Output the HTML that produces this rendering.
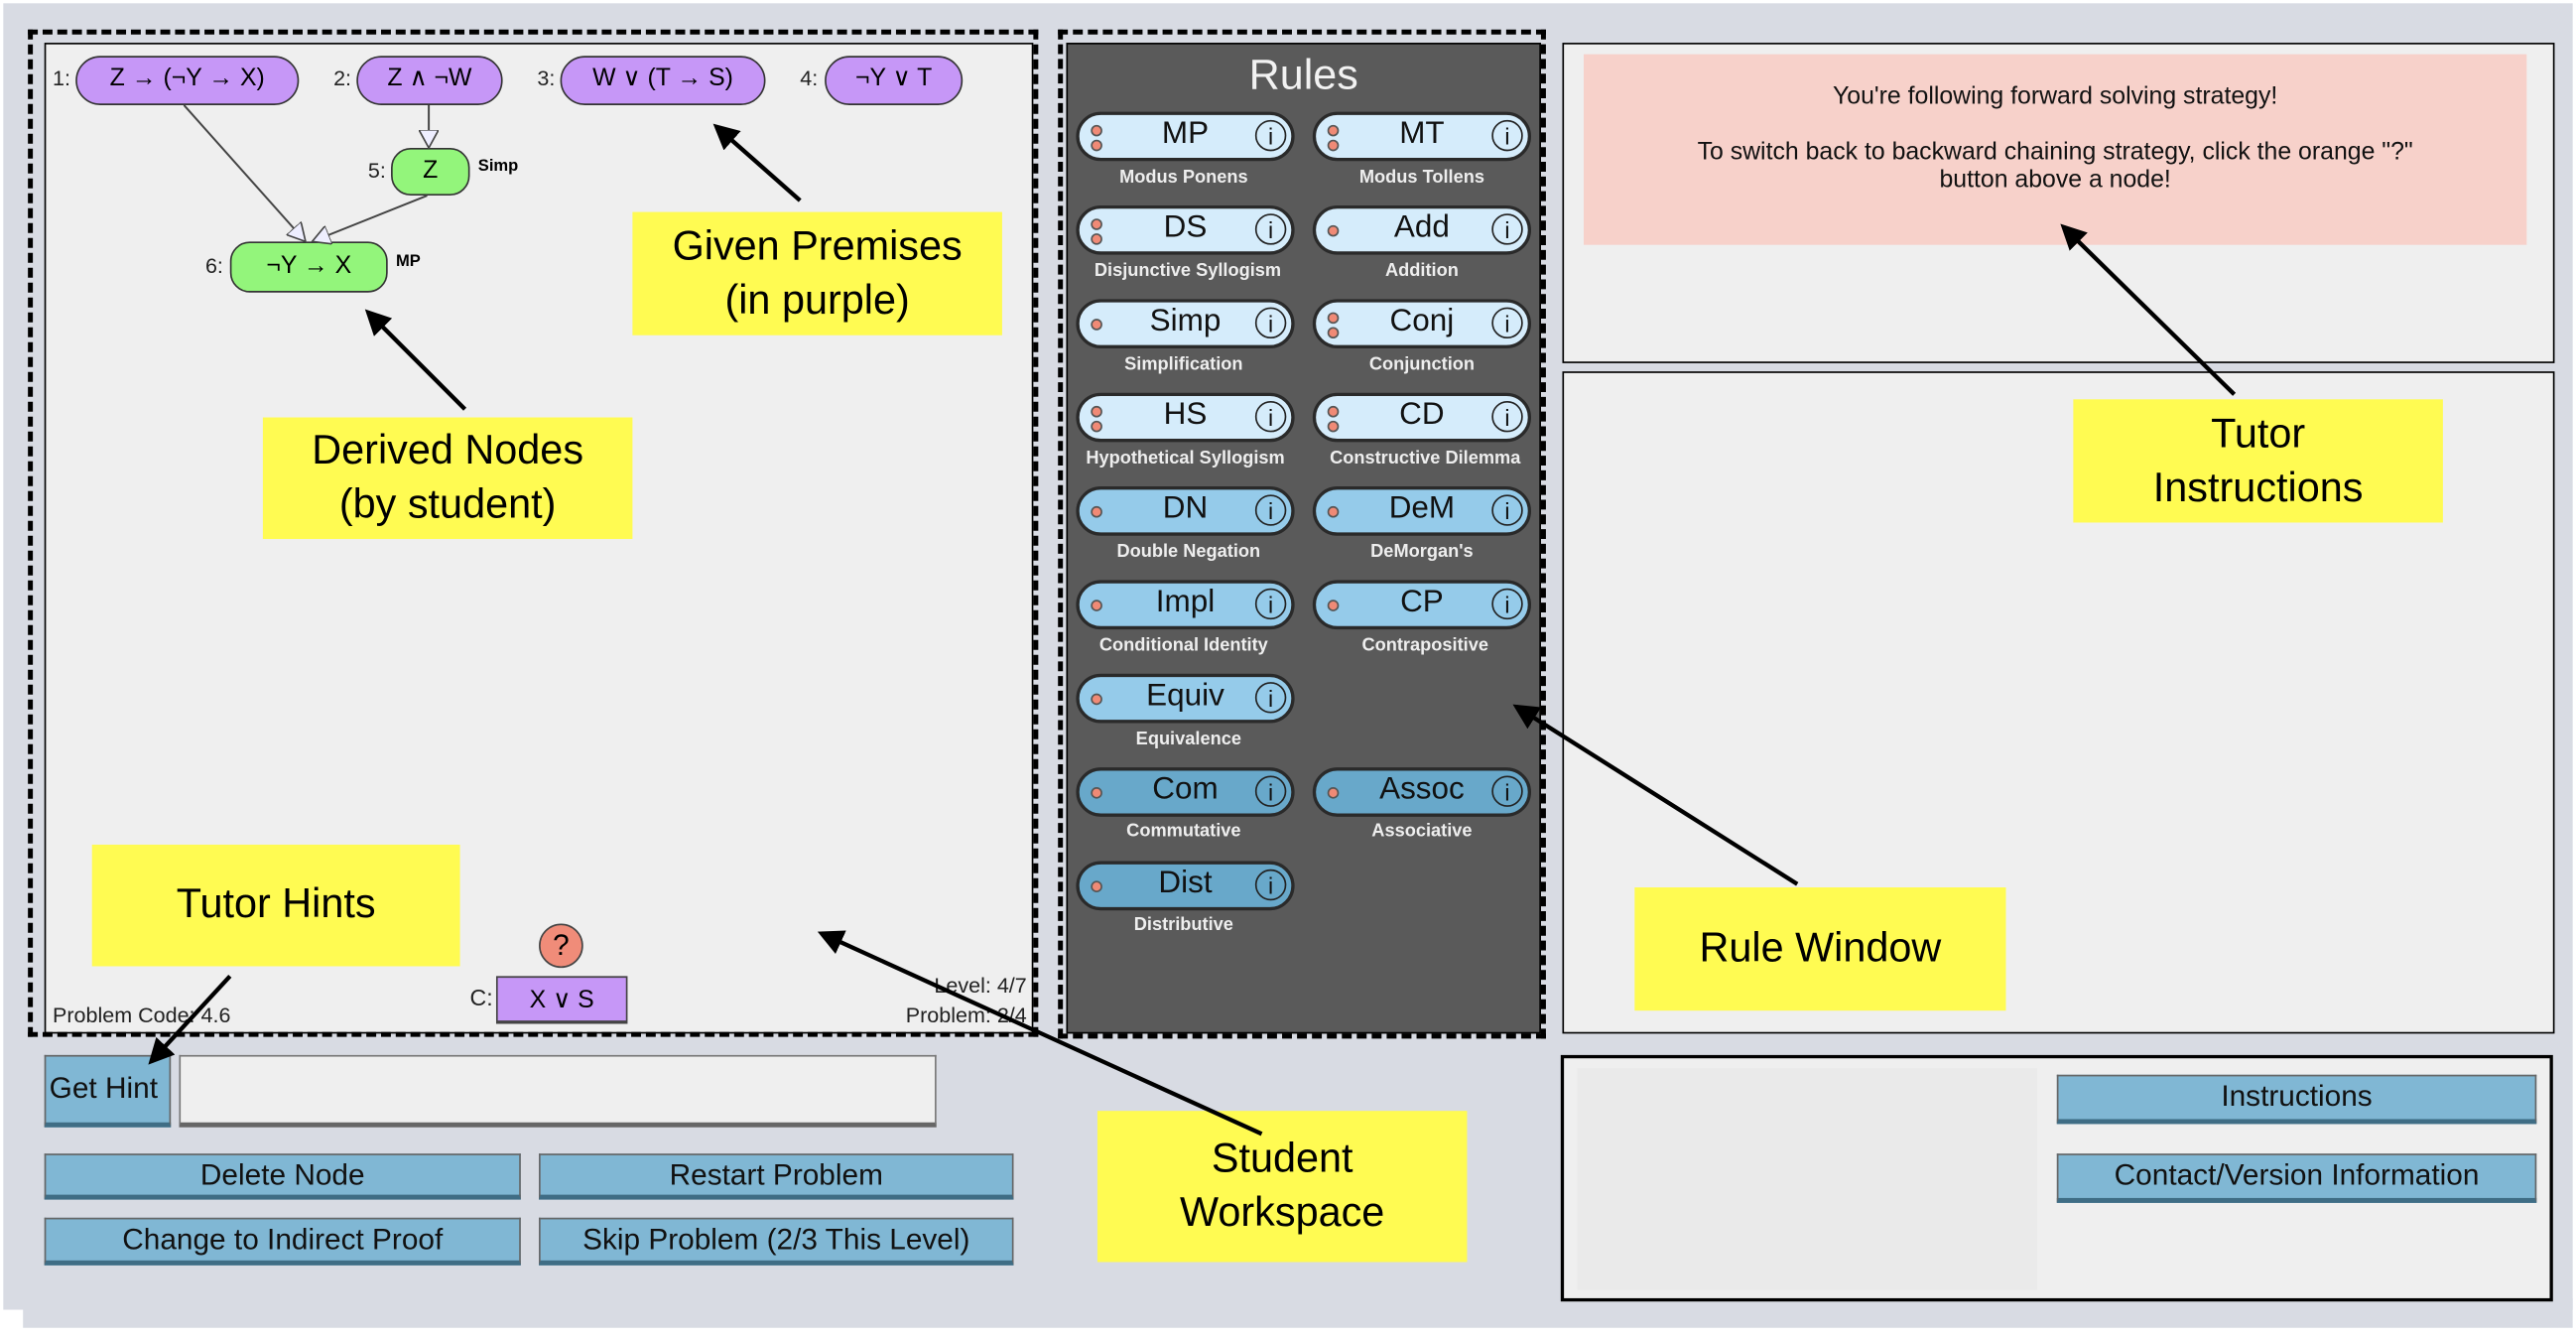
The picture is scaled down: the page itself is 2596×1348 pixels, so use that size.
<!DOCTYPE html>
<html><head><meta charset="utf-8"><style>
html,body{margin:0;padding:0;background:#fff;overflow:hidden}
#s{position:absolute;left:0;top:0;width:1568px;height:814px;transform:scale(1.6556);transform-origin:0 0;font-family:"Liberation Sans",sans-serif}
.a{position:absolute;box-sizing:border-box}
.y{background:#fffb52;color:#000;font-size:25px;text-align:center;display:flex;align-items:center;justify-content:center;line-height:33px}
.pn{background:#c697f7;border:1.5px solid #333;border-radius:15px;font-size:15px;text-align:center;line-height:26px}
.gn{background:#93f57b;border:1.5px solid #333;border-radius:12px;font-size:15px;text-align:center;line-height:26px}
.lb{font-size:13px;color:#222}
.btn{background:#80b7d4;border:1px solid #666;border-bottom:3px solid #3f6d85;font-size:18px;text-align:center;line-height:24px;color:#111}
.r{width:133px;height:30px;border:2px solid #2a2a2a;border-radius:15px}
.r .t{position:absolute;left:0;right:0;top:1px;text-align:center;font-size:19px;color:#111}
.r .i{position:absolute;right:3px;top:3px;width:19px;height:19px;border:1.5px solid #222;border-radius:50%;font-size:14px;line-height:19px;text-align:center;color:#111;box-sizing:border-box}
.r .d{position:absolute;left:7px;width:7px;height:7px;border-radius:50%;background:#f08a76;border:1px solid #555;box-sizing:border-box}
.sub{position:absolute;width:145px;text-align:center;color:#eee;font-size:11px;font-weight:bold}
.c1{background:#d5ecfb}.c2{background:#95cbea}.c3{background:#68a8ca}
</style></head><body><div id="s">
<div class="a" style="left:2px;top:2px;width:1564px;height:795px;background:#d8dbe3"></div>
<div class="a" style="left:14px;top:790px;width:1552px;height:18px;background:#d8dbe3"></div>

<!-- workspace -->
<div class="a" style="left:27px;top:26px;width:602px;height:603px;background:#efefef;border:1.5px solid #000"></div>
<div class="a" style="left:17px;top:18px;width:615px;height:613px;border:3px dashed #000"></div>
<!-- rules -->
<div class="a" style="left:649px;top:26px;width:289px;height:603px;background:#5a5a5a;border:1.5px solid #000"></div>
<div class="a" style="left:644px;top:18px;width:297px;height:614px;border:3px dashed #000"></div>
<!-- right boxes -->
<div class="a" style="left:951px;top:26px;width:604px;height:195px;background:#efefef;border:1.5px solid #000"></div>
<div class="a" style="left:964px;top:33px;width:574px;height:116px;background:#f7d1ca;text-align:center;font-size:15px;color:#111;line-height:17px;padding-top:17px">You're following forward solving strategy!<br><br>To switch back to backward chaining strategy, click the orange "?"<br>button above a node!</div>
<div class="a" style="left:951px;top:226px;width:604px;height:403px;background:#efefef;border:1.5px solid #000"></div>
<div class="a" style="left:950px;top:642px;width:604px;height:150px;background:#efefef;border:2px solid #000"></div>
<div class="a" style="left:960px;top:650px;width:280px;height:135px;background:#eaeaea"></div>
<div class="a btn" style="left:1252px;top:654px;width:292px;height:30px">Instructions</div>
<div class="a btn" style="left:1252px;top:702px;width:292px;height:30px">Contact/Version Information</div>

<!-- bottom left controls -->
<div class="a btn" style="left:27px;top:642px;width:77px;height:44px;line-height:38px;text-align:left;padding-left:2px">Get Hint</div>
<div class="a" style="left:109px;top:642px;width:461px;height:44px;background:#efefef;border:1px solid #777;border-bottom:3px solid #666"></div>
<div class="a btn" style="left:27px;top:702px;width:290px;height:28px">Delete Node</div>
<div class="a btn" style="left:328px;top:702px;width:289px;height:28px">Restart Problem</div>
<div class="a btn" style="left:27px;top:741px;width:290px;height:29px">Change to Indirect Proof</div>
<div class="a btn" style="left:328px;top:741px;width:289px;height:29px">Skip Problem (2/3 This Level)</div>

<!-- graph nodes -->
<div class="a lb" style="left:32px;top:40px">1:</div>
<div class="a pn" style="left:46px;top:34px;width:136px;height:30px">Z → (¬Y → X)</div>
<div class="a lb" style="left:203px;top:40px">2:</div>
<div class="a pn" style="left:217px;top:34px;width:89px;height:30px">Z ∧ ¬W</div>
<div class="a lb" style="left:327px;top:40px">3:</div>
<div class="a pn" style="left:341px;top:34px;width:125px;height:30px">W ∨ (T → S)</div>
<div class="a lb" style="left:487px;top:40px">4:</div>
<div class="a pn" style="left:502px;top:34px;width:84px;height:30px">¬Y ∨ T</div>
<div class="a lb" style="left:224px;top:96px">5:</div>
<div class="a gn" style="left:238px;top:90px;width:48px;height:29px">Z</div>
<div class="a" style="left:291px;top:96px;font-size:10px;font-weight:bold">Simp</div>
<div class="a lb" style="left:125px;top:154px">6:</div>
<div class="a gn" style="left:140px;top:147px;width:96px;height:31px;line-height:28px">¬Y → X</div>
<div class="a" style="left:241px;top:154px;font-size:10px;font-weight:bold">MP</div>

<div class="a" style="left:328px;top:562px;width:27px;height:27px;border-radius:50%;background:#f08c79;border:1.5px solid #444;text-align:center;font-size:18px;line-height:24px">?</div>
<div class="a lb" style="left:286px;top:599px;font-size:14px">C:</div>
<div class="a" style="left:302px;top:594px;width:80px;height:29px;background:#c697f7;border:1px solid #444;border-bottom:2px solid #444;text-align:center;font-size:15px;line-height:27px">X ∨ S</div>
<div class="a lb" style="left:32px;top:610px">Problem Code: 4.6</div>
<div class="a lb" style="left:520px;top:592px;width:105px;text-align:right">Level: 4/7</div>
<div class="a lb" style="left:510px;top:610px;width:115px;text-align:right">Problem: 2/4</div>

<!-- rules -->
<div class="a" style="left:649px;top:30px;width:289px;text-align:center;color:#f2f2f2;font-size:26px">Rules</div>

<div class="a r c1" style="left:655px;top:68px"><div class="d" style="top:6px"></div><div class="d" style="top:15px"></div><div class="t">MP</div><div class="i">i</div></div>
<div class="sub" style="left:648px;top:102px">Modus Ponens</div>
<div class="a r c1" style="left:799px;top:68px"><div class="d" style="top:6px"></div><div class="d" style="top:15px"></div><div class="t">MT</div><div class="i">i</div></div>
<div class="sub" style="left:793px;top:102px">Modus Tollens</div>

<div class="a r c1" style="left:655px;top:125px"><div class="d" style="top:6px"></div><div class="d" style="top:15px"></div><div class="t">DS</div><div class="i">i</div></div>
<div class="sub" style="left:648px;top:159px;width:150px">Disjunctive Syllogism</div>
<div class="a r c1" style="left:799px;top:125px"><div class="d" style="top:10px"></div><div class="t">Add</div><div class="i">i</div></div>
<div class="sub" style="left:793px;top:159px">Addition</div>

<div class="a r c1" style="left:655px;top:182px"><div class="d" style="top:10px"></div><div class="t">Simp</div><div class="i">i</div></div>
<div class="sub" style="left:648px;top:216px">Simplification</div>
<div class="a r c1" style="left:799px;top:182px"><div class="d" style="top:6px"></div><div class="d" style="top:15px"></div><div class="t">Conj</div><div class="i">i</div></div>
<div class="sub" style="left:793px;top:216px">Conjunction</div>

<div class="a r c1" style="left:655px;top:239px"><div class="d" style="top:6px"></div><div class="d" style="top:15px"></div><div class="t">HS</div><div class="i">i</div></div>
<div class="sub" style="left:644px;top:273px;width:155px">Hypothetical Syllogism</div>
<div class="a r c1" style="left:799px;top:239px"><div class="d" style="top:6px"></div><div class="d" style="top:15px"></div><div class="t">CD</div><div class="i">i</div></div>
<div class="sub" style="left:790px;top:273px;width:155px">Constructive Dilemma</div>

<div class="a r c2" style="left:655px;top:296px"><div class="d" style="top:10px"></div><div class="t">DN</div><div class="i">i</div></div>
<div class="sub" style="left:651px;top:330px">Double Negation</div>
<div class="a r c2" style="left:799px;top:296px"><div class="d" style="top:10px"></div><div class="t">DeM</div><div class="i">i</div></div>
<div class="sub" style="left:793px;top:330px">DeMorgan's</div>

<div class="a r c2" style="left:655px;top:353px"><div class="d" style="top:10px"></div><div class="t">Impl</div><div class="i">i</div></div>
<div class="sub" style="left:648px;top:387px;width:145px">Conditional Identity</div>
<div class="a r c2" style="left:799px;top:353px"><div class="d" style="top:10px"></div><div class="t">CP</div><div class="i">i</div></div>
<div class="sub" style="left:795px;top:387px">Contrapositive</div>

<div class="a r c2" style="left:655px;top:410px"><div class="d" style="top:10px"></div><div class="t">Equiv</div><div class="i">i</div></div>
<div class="sub" style="left:651px;top:444px">Equivalence</div>

<div class="a r c3" style="left:655px;top:467px"><div class="d" style="top:10px"></div><div class="t">Com</div><div class="i">i</div></div>
<div class="sub" style="left:648px;top:500px">Commutative</div>
<div class="a r c3" style="left:799px;top:467px"><div class="d" style="top:10px"></div><div class="t">Assoc</div><div class="i">i</div></div>
<div class="sub" style="left:793px;top:500px">Associative</div>

<div class="a r c3" style="left:655px;top:524px"><div class="d" style="top:10px"></div><div class="t">Dist</div><div class="i">i</div></div>
<div class="sub" style="left:648px;top:557px">Distributive</div>

<!-- yellow labels -->
<div class="a y" style="left:385px;top:129px;width:225px;height:75px">Given Premises<br>(in purple)</div>
<div class="a y" style="left:160px;top:254px;width:225px;height:74px">Derived Nodes<br>(by student)</div>
<div class="a y" style="left:56px;top:514px;width:224px;height:74px;padding-bottom:2px;align-items:flex-start;padding-top:20px">Tutor Hints</div>
<div class="a y" style="left:668px;top:676px;width:225px;height:92px">Student<br>Workspace</div>
<div class="a y" style="left:995px;top:540px;width:226px;height:75px">Rule Window</div>
<div class="a y" style="left:1262px;top:243px;width:225px;height:75px">Tutor<br>Instructions</div>

<svg class="a" style="left:0;top:0" width="1568" height="814" viewBox="0 0 1568 814">
<defs>
<marker id="ah" markerWidth="6" markerHeight="6" refX="5" refY="3" orient="auto" markerUnits="strokeWidth"><path d="M0,0 L6,3 L0,6 z" fill="#000"/></marker>
<marker id="ho" markerWidth="12" markerHeight="12" refX="11" refY="6" orient="auto" markerUnits="userSpaceOnUse"><path d="M0,0 L11,6 L0,12 z" fill="#eef" stroke="#444" stroke-width="1"/></marker>
</defs>
<g stroke="#444" stroke-width="1.2" fill="none">
<line x1="112" y1="64" x2="186" y2="147" marker-end="url(#ho)"/>
<line x1="260" y1="119" x2="190" y2="147" marker-end="url(#ho)"/>
<line x1="261" y1="64" x2="261" y2="90" marker-end="url(#ho)"/>
</g>
<g stroke="#000" stroke-width="2.6" fill="none" marker-end="url(#ah)">
<line x1="487" y1="122" x2="436" y2="77"/>
<line x1="283" y1="249" x2="224" y2="190"/>
<line x1="140" y1="594" x2="92" y2="646"/>
<line x1="768" y1="690" x2="500" y2="568"/>
<line x1="1094" y1="538" x2="923" y2="430"/>
<line x1="1360" y1="240" x2="1256" y2="138"/>
</g>
</svg>
</div></body></html>
